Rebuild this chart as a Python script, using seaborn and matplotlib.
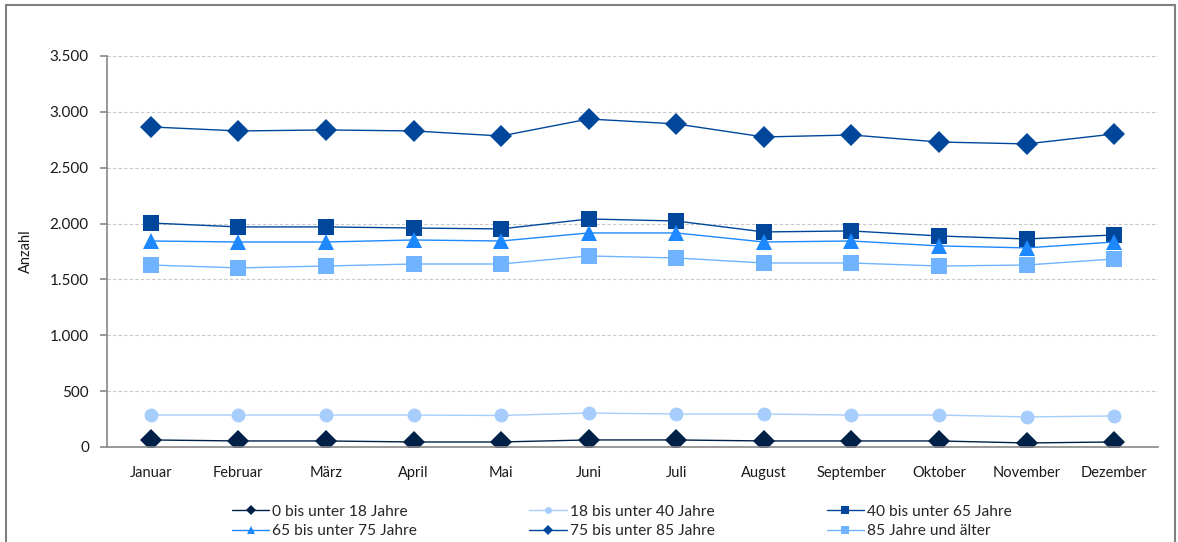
import numpy as np
import pandas as pd
import matplotlib
matplotlib.use("Agg")
import matplotlib.pyplot as plt
import seaborn as sns
from matplotlib.patches import Rectangle
from matplotlib.ticker import FuncFormatter, FixedLocator

months = ["Januar", "Februar", "März", "April", "Mai", "Juni", "Juli",
          "August", "September", "Oktober", "November", "Dezember"]

age_0_18 = [63, 54, 54, 45, 45, 63, 63, 54, 54, 54, 36, 45]
age_18_40 = [286, 286, 286, 286, 282, 304, 295, 295, 286, 286, 269, 278]
age_40_65 = [2005, 1970, 1970, 1960, 1952, 2041, 2023, 1925, 1934, 1889, 1862, 1898]
age_65_75 = [1844, 1835, 1835, 1853, 1844, 1916, 1916, 1835, 1844, 1800, 1782, 1835]
age_75_85 = [2865, 2829, 2838, 2829, 2784, 2936, 2892, 2775, 2793, 2730, 2713, 2802]
age_85_up = [1629, 1603, 1620, 1638, 1638, 1710, 1692, 1647, 1647, 1620, 1629, 1683]

labels = ["0 bis unter 18 Jahre", "18 bis unter 40 Jahre", "40 bis unter 65 Jahre",
          "65 bis unter 75 Jahre", "75 bis unter 85 Jahre", "85 Jahre und älter"]
series = [age_0_18, age_18_40, age_40_65, age_65_75, age_75_85, age_85_up]
colors = ["#002147", "#a6cdfb", "#00479b", "#1e88ff", "#00479b", "#70b4ff"]
markers = ["D", "o", "s", "^", "D", "s"]
msizes = [11, 10, 11, 11, 11, 11]

sns.set_style("white")
plt.rcParams["font.family"] = ["Lato", "DejaVu Sans"]

fig = plt.figure(figsize=(11.78, 5.42), dpi=100)
ax = fig.add_axes([0.0908, 0.1753, 0.8922, 0.7214])

for vals, lab, col, mk, ms in zip(series, labels, colors, markers, msizes):
    df = pd.DataFrame({"Monat": months, "Anzahl": vals})
    sns.lineplot(data=df, x="Monat", y="Anzahl", sort=False, ax=ax, color=col,
                 marker=mk, markersize=ms, markeredgewidth=0, linewidth=1.0,
                 label=lab)

ax.set_xlim(-0.5, len(months) - 0.5)
ax.set_ylim(0, 3500)
ax.set_yticks(np.arange(0, 3501, 500))
ax.yaxis.set_major_formatter(FuncFormatter(lambda v, p: f"{int(v):,}".replace(",", ".")))
ax.grid(axis="y", color="#c8c8c8", linestyle=(0, (3, 2)), linewidth=0.8)
ax.set_axisbelow(True)

ax.xaxis.set_minor_locator(FixedLocator(np.arange(-0.5, len(months), 1)))
ax.tick_params(axis="x", which="major", length=0, pad=14, labelsize=10.5, colors="#1a1a1a")
ax.tick_params(axis="x", which="minor", length=5, width=1.2, color="#888888", direction="out")
ax.tick_params(axis="y", length=5, width=1.2, color="#888888", labelsize=11,
               labelcolor="#1a1a1a", pad=8, left=True)

for side in ["top", "right"]:
    ax.spines[side].set_visible(False)
for side in ["left", "bottom"]:
    ax.spines[side].set_color("#888888")
    ax.spines[side].set_linewidth(1.2)

ax.set_xlabel("")
ax.set_ylabel("Anzahl", fontsize=10.5, color="#1a1a1a", labelpad=12)

# legend is filled row by row in the reference
handles, labs = ax.get_legend_handles_labels()
order = [0, 3, 1, 4, 2, 5]
ax.legend([handles[i] for i in order], [labs[i] for i in order],
          loc="upper center", bbox_to_anchor=(0.49, -0.12), ncol=3, frameon=False,
          fontsize=11.2, markerscale=0.5, handlelength=2.4, handletextpad=0.2,
          columnspacing=7.2, labelspacing=0.35, borderpad=0.2)

fig.add_artist(Rectangle((6 / 1178, -0.05), 1169 / 1178, 1 - 5 / 542 + 0.05,
                         transform=fig.transFigure, fill=False,
                         edgecolor="#808080", linewidth=1.5, clip_on=False))

fig.savefig("out.png", dpi=100)
